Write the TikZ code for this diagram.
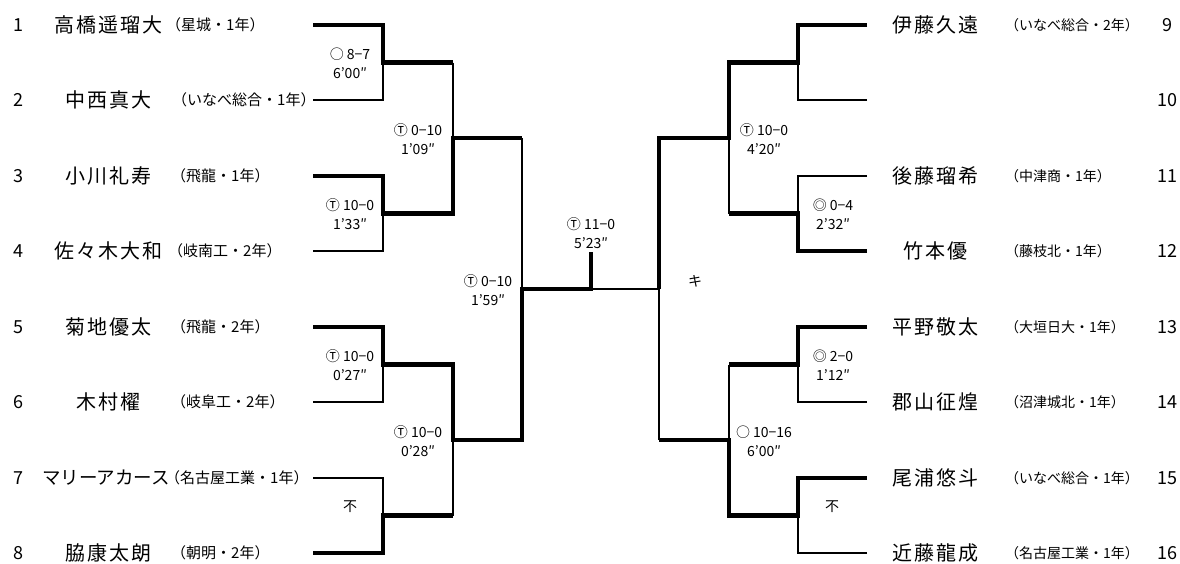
\documentclass[tikz,border=0pt]{standalone}
\usepackage{fontspec}
\usetikzlibrary{positioning}
\newfontfamily\jp{Noto Sans CJK JP}
\newfontfamily\jpwide[LetterSpace=10]{Noto Sans CJK JP}
\tikzset{
  player/.style={font=\jpwide\fontsize{20}{20}\selectfont, inner sep=0pt},
  school/.style={font=\jp\fontsize{15}{15}\selectfont, inner sep=0pt, anchor=west},
  rschool/.style={font=\jp\fontsize{14}{14}\selectfont, inner sep=0pt, anchor=west},
  num/.style={font=\jp\fontsize{18}{18}\selectfont, inner sep=0pt},
  result/.style={font=\jp\fontsize{14}{19}\selectfont, align=center, inner sep=0pt},
  note/.style={font=\jp\fontsize{14}{14}\selectfont, inner sep=0pt},
  win/.style={line width=4.6pt, line join=miter},
  lose/.style={line width=1.4pt},
}

\begin{document}
\begin{tikzpicture}[x=1pt, y=-1pt]
  \useasboundingbox (0,0) rectangle (1180,563);

  % left half
  \node[num] (k1) at (18,25) {1};
  \node[player] (p1) at (108,25) {高橋遥瑠大};
  \node[school] (s1) at (166,25) {（星城・1年）};
  \node[num] (k2) at (18,100) {2};
  \node[player] (p2) at (108,100) {中西真大};
  \node[school] (s2) at (172,100) {（いなべ総合・1年）};
  \node[num] (k3) at (18,176) {3};
  \node[player] (p3) at (108,176) {小川礼寿};
  \node[school] (s3) at (171,176) {（飛龍・1年）};
  \node[num] (k4) at (18,251) {4};
  \node[player] (p4) at (108,251) {佐々木大和};
  \node[school] (s4) at (168,251) {（岐南工・2年）};
  \node[num] (k5) at (18,327) {5};
  \node[player] (p5) at (108,327) {菊地優太};
  \node[school] (s5) at (171,327) {（飛龍・2年）};
  \node[num] (k6) at (18,402) {6};
  \node[player] (p6) at (108,402) {木村櫂};
  \node[school] (s6) at (171,402) {（岐阜工・2年）};
  \node[num] (k7) at (18,478) {7};
  \node[player, font=\jp\fontsize{18.5}{18.5}\selectfont] (p7) at (106,478) {マリーアカース};
  \node[school] (s7) at (165,478) {（名古屋工業・1年）};
  \node[num] (k8) at (18,553) {8};
  \node[player] (p8) at (108,553) {脇康太朗};
  \node[school] (s8) at (171,553) {（朝明・2年）};

  % right half
  \node[player] (p9) at (935,25) {伊藤久遠};
  \node[rschool] (s9) at (1005,25) {（いなべ総合・2年）};
  \node[num] (k9) at (1167,25) {9};
  \node[num] (k10) at (1167,100) {10};
  \node[player] (p11) at (935,176) {後藤瑠希};
  \node[rschool] (s11) at (1005,176) {（中津商・1年）};
  \node[num] (k11) at (1167,176) {11};
  \node[player] (p12) at (935,251) {竹本優};
  \node[rschool] (s12) at (1005,251) {（藤枝北・1年）};
  \node[num] (k12) at (1167,251) {12};
  \node[player] (p13) at (935,327) {平野敬太};
  \node[rschool] (s13) at (1005,327) {（大垣日大・1年）};
  \node[num] (k13) at (1167,327) {13};
  \node[player] (p14) at (935,402) {郡山征煌};
  \node[rschool] (s14) at (1005,402) {（沼津城北・1年）};
  \node[num] (k14) at (1167,402) {14};
  \node[player] (p15) at (935,478) {尾浦悠斗};
  \node[rschool] (s15) at (1005,478) {（いなべ総合・1年）};
  \node[num] (k15) at (1167,478) {15};
  \node[player] (p16) at (935,553) {近藤龍成};
  \node[rschool] (s16) at (1005,553) {（名古屋工業・1年）};
  \node[num] (k16) at (1167,553) {16};

  % line ends
  \coordinate (e1) at (313,25);
  \coordinate (e2) at (313,100);
  \coordinate (e3) at (313,176);
  \coordinate (e4) at (313,251);
  \coordinate (e5) at (313,327);
  \coordinate (e6) at (313,402);
  \coordinate (e7) at (313,478);
  \coordinate (e8) at (313,553);
  \coordinate (e9) at (867,25);
  \coordinate (e10) at (867,100);
  \coordinate (e11) at (867,176);
  \coordinate (e12) at (867,251);
  \coordinate (e13) at (867,327);
  \coordinate (e14) at (867,402);
  \coordinate (e15) at (867,478);
  \coordinate (e16) at (867,553);

  % junctions
  \coordinate (a1) at (383,62.5);
  \coordinate (a2) at (383,213.5);
  \coordinate (a3) at (383,364.5);
  \coordinate (a4) at (383,515.5);
  \coordinate (b1) at (453,138);
  \coordinate (b2) at (453,440);
  \coordinate (c1) at (522,289);
  \coordinate (f) at (591,289);
  \coordinate (ft) at (591,252);
  \coordinate (c2) at (659,289);
  \coordinate (b3) at (729,138);
  \coordinate (b4) at (729,440);
  \coordinate (a5) at (798,62.5);
  \coordinate (a6) at (798,213.5);
  \coordinate (a7) at (798,364.5);
  \coordinate (a8) at (798,515.5);

  % losers
  \draw[lose] (e2) -| (a1);
  \draw[lose] (e4) -| (a2);
  \draw[lose] (e6) -| (a3);
  \draw[lose] (e7) -| (a4);
  \draw[lose] (b1 |- a1) -- (b1);
  \draw[lose] (b2 |- a4) -- (b2);
  \draw[lose] (c1 |- b1) -- (c1);
  \draw[lose] (f) -- (c2) -- (c2 |- b4);
  \draw[lose] (e10) -| (a5);
  \draw[lose] (e11) -| (a6);
  \draw[lose] (e14) -| (a7);
  \draw[lose] (e16) -| (a8);
  \draw[lose] (b3) -- (b3 |- a6);
  \draw[lose] (b4 |- a7) -- (b4);

  % winners
  \draw[win] (e1) -| (a1) -- (b1 |- a1);
  \draw[win] (e3) -| (a2) -- (b1 |- a2) -- (b1) -- (c1 |- b1);
  \draw[win] (e5) -| (a3) -- (b2 |- a3) -- (b2) -- (c1 |- b2) -- (c1) -- (f) -- (ft);
  \draw[win] (e8) -| (a4) -- (b2 |- a4);
  \draw[win] (e9) -| (a5) -- (b3 |- a5) -- (b3) -- (c2 |- b3) -- (c2);
  \draw[win] (e12) -| (a6) -- (b3 |- a6);
  \draw[win] (e13) -| (a7) -- (b4 |- a7);
  \draw[win] (e15) -| (a8) -- (b4 |- a8) -- (b4) -- (c2 |- b4);

  % results
  \node[result, xshift=-33, yshift=-1] (r1) at (a1) {○ 8−7\\6’00″};
  \node[result, xshift=-33, yshift=-1] (r2) at (a2) {Ⓣ 10−0\\1’33″};
  \node[result, xshift=-33, yshift=-1] (r3) at (a3) {Ⓣ 10−0\\0’27″};
  \node[note, xshift=-33, yshift=9] (r4) at (a4) {不};
  \node[result, xshift=-35, yshift=-1] (r5) at (b1) {Ⓣ 0−10\\1’09″};
  \node[result, xshift=-35, yshift=-1] (r6) at (b2) {Ⓣ 10−0\\0’28″};
  \node[result, xshift=-34, yshift=-1] (r7) at (c1) {Ⓣ 0−10\\1’59″};
  \node[result, above=3pt of ft] (r8) {Ⓣ 11−0\\5’23″};
  \node[note, xshift=36, yshift=8] (r9) at (c2) {キ};
  \node[result, xshift=35, yshift=-1] (r10) at (b3) {Ⓣ 10−0\\4’20″};
  \node[result, xshift=35, yshift=-1] (r11) at (a6) {◎ 0−4\\2’32″};
  \node[result, xshift=35, yshift=-1] (r12) at (a7) {◎ 2−0\\1’12″};
  \node[result, xshift=35, yshift=-1] (r13) at (b4) {○ 10−16\\6’00″};
  \node[note, xshift=34, yshift=9] (r14) at (a8) {不};

\end{tikzpicture}
\end{document}
